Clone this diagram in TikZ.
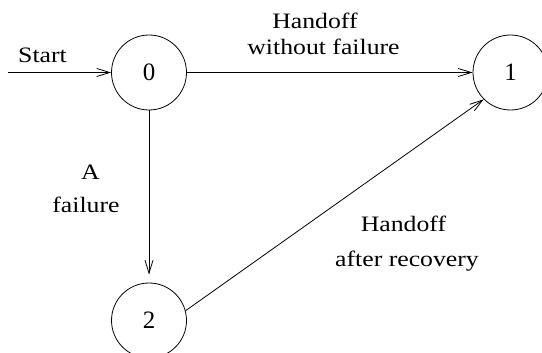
\documentclass[tikz,border=0pt]{standalone}
\usepackage{fontspec}
\setmainfont{Liberation Serif}
\newfontfamily\labelfont[FakeStretch=1.17]{Liberation Serif}
\usetikzlibrary{arrows.meta}
\tikzset{
  state/.style={draw,circle,minimum size=75bp,inner sep=0pt,font=\fontsize{25bp}{30bp}\selectfont},
  edgelabel/.style={draw=none,anchor=base,inner sep=0pt,font=\labelfont\fontsize{22bp}{26bp}\selectfont},
}
\begin{document}
\begin{tikzpicture}[>={Straight Barb[length=13bp,width=8bp]},line join=bevel,line width=0.8bp]
\useasboundingbox (0bp,0bp) rectangle (542bp,353bp);
%%
\node (node_0) at (149bp,280.5bp) [state] {0};
  \node (node_1) at (510.5bp,280.5bp) [state] {1};
  \node (node_2) at (149bp,32.5bp) [state] {2};
  \coordinate (start) at (8bp,280.5bp);
%
\node (lbl_start) at (42.5bp,290bp) [edgelabel] {Start};
  \node (lbl_01a) at (315bp,324bp) [edgelabel] {Handoff};
  \node (lbl_01b) at (323.5bp,298.7bp) [edgelabel] {without failure};
  \node (lbl_02a) at (90.5bp,173bp) [edgelabel] {A};
  \node (lbl_02b) at (86bp,140.5bp) [edgelabel] {failure};
  \node (lbl_21a) at (403.5bp,121.3bp) [edgelabel] {Handoff};
  \node (lbl_21b) at (407bp,86.3bp) [edgelabel] {after recovery};
%
\draw [black,->] (start) -- (node_0);
  \draw [black,->] (node_0) -- (node_1);
  \draw [black,->,shorten >=8bp] (node_0) -- (node_2);
  \draw [black,->] (node_2.15) -- (node_1.225);
%
\end{tikzpicture}
\end{document}
